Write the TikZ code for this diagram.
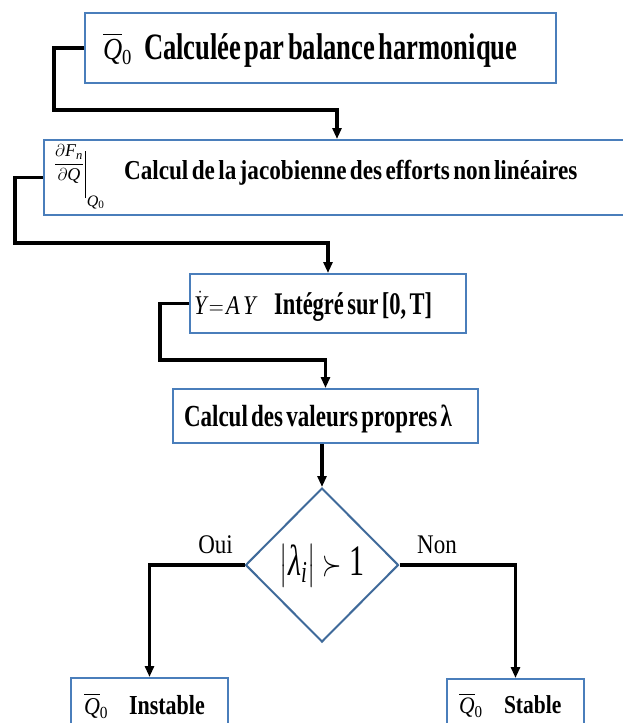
\documentclass[tikz,border=0pt]{standalone}
\usepackage{fontspec}
\usepackage{amsmath}
\usepackage{graphicx}
\setmainfont{Liberation Serif}
\usetikzlibrary{arrows.meta,shapes.geometric}
\definecolor{boxblue}{HTML}{4A7EBB}
\definecolor{diablue}{HTML}{3F6A9A}
\newcommand{\vstr}[2]{\scalebox{1}[#1]{#2}}
\newcommand{\fs}[1]{\fontsize{#1}{#1}\selectfont}
\newcommand{\Qb}{$\overline{\textit{Q}}_{\textrm{0}}$}
\begin{document}
\begin{tikzpicture}[x=1pt,y=-1pt,
  box/.style={draw=boxblue,line width=2pt,anchor=north west,inner ysep=0pt,align=left,fill=white},
  conn/.style={line width=3.2pt,-{Triangle[length=11pt,width=9pt]}},
  decision/.style={diamond,draw=diablue,line width=2pt,minimum width=153pt,minimum height=154pt,inner sep=0pt,fill=white},
  lbl/.style={inner sep=0pt,anchor=base,font=\fs{23}}]
\fill[white] (0,0) rectangle (623,723);
\useasboundingbox (0,0) rectangle (623,723);

% boxes
\node[box,inner xsep=18pt,text width=435pt,text height=46pt,text depth=24pt] (b1) at (84,12)
  {\fs{26.6}\makebox[41pt][l]{\vstr{1.15}{\Qb}}\bfseries\vstr{1.4}{Calculée par balance harmonique}};
\node[box,inner xsep=10pt,text width=580pt,text height=39pt,text depth=36pt] (b2) at (43,139)
  {\makebox[70pt][l]{\raisebox{10.5pt}{\fs{18}$\dfrac{\partial \textit{F}_{\textit{n}}}{\partial \textit{Q}}$}\hspace{1pt}\rule[-19pt]{0.8pt}{47pt}\hspace{1pt}\raisebox{-27pt}{\fs{16}\textit{Q}\textsubscript{0}}}\fs{23.2}\bfseries\vstr{1.18}{Calcul de la jacobienne des efforts non linéaires}};
\node[box,inner xsep=4pt,text width=268pt,text height=40pt,text depth=19pt] (b3) at (189,273)
  {\fs{22.5}\makebox[80pt][l]{\vstr{1.2}{$\dot{\textit{Y}}\!=\!\textit{A}\,\textit{Y}$}}\bfseries\vstr{1.4}{Intégré sur [0, T]}};
\node[box,inner xsep=11pt,text width=283pt,text height=37pt,text depth=17pt] (b4) at (172,388)
  {\fs{23}\bfseries\vstr{1.33}{Calcul des valeurs propres λ}};
\node[box,inner xsep=13pt,text width=131pt,text height=36pt,text depth=30pt] (b5) at (70,677)
  {\fs{22}\makebox[45pt][l]{\vstr{1.1}{\Qb}}\bfseries\vstr{1.25}{Instable}};
\node[box,inner xsep=12pt,text width=113pt,text height=34pt,text depth=31pt] (b6) at (446,678)
  {\fs{21.5}\makebox[45pt][l]{\vstr{1.1}{\Qb}}\bfseries\vstr{1.2}{Stable}};

% decision
\node[decision] (dia) at (322,565)
  {\fs{30}\vstr{1.45}{$\left|\rule[-0.25em]{0pt}{1em}\textit{λ}_{\textit{i}}\right|\succ\textrm{1}$}};

\node[lbl] (oui) at (215.5,553) {\vstr{1.17}{Oui}};
\node[lbl] (non) at (437,553) {\vstr{1.17}{Non}};

% connectors
\coordinate (k1) at (54,110);
\coordinate (t1) at (337,110);
\coordinate (k2) at (15,243);
\coordinate (k3) at (160,360);
\draw[conn] (b1.west) -| (k1) -- (t1) -- (t1 |- b2.north);
\draw[conn] (b2.west) -| (k2) -| (b3.north);
\draw[conn] (b3.west) -| (k3) -| (b4.north);
\draw[conn] (b4.south -| dia.north) -- (dia.north);
\draw[conn] (dia.west) -| (b5.north);
\draw[conn] (dia.east) -| (b6.north);
\end{tikzpicture}
\end{document}
